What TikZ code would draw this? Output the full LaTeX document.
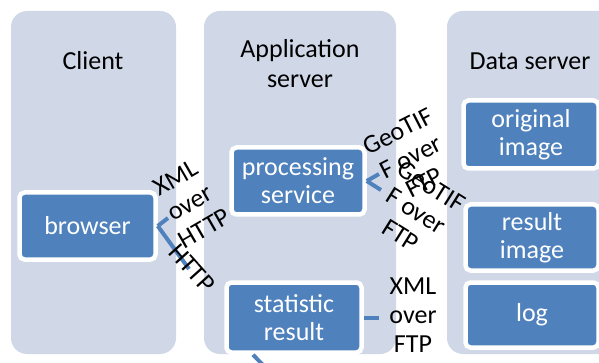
\documentclass[tikz,border=0pt]{standalone}
\usepackage{fontspec}
\setmainfont{Carlito}
\usetikzlibrary{positioning}

\begin{document}
\begin{tikzpicture}[x=1pt,y=-1pt,
	lane/.style={fill=lanegray,rounded corners=16pt},
	item/.style={fill=itemblue,draw=white,line width=4.5pt,rounded corners=5pt,
		text=white,align=center,inner sep=0pt,minimum width=134pt,minimum height=67pt,
		font=\fontsize{26}{28}\selectfont},
	head/.style={align=center,inner sep=0pt,font=\fontsize{26}{30}\selectfont},
	link/.style={draw=itemblue,line width=4pt},
	tag/.style={align=center,inner sep=0pt,font=\fontsize{26}{29}\selectfont}]

\definecolor{lanegray}{RGB}{208,216,232}
\definecolor{itemblue}{RGB}{79,129,189}

\useasboundingbox (0,0) rectangle (599,363);
\clip (0,0) rectangle (599,363);

% three columns
\fill[lane] (11,11) rectangle (176,354);
\fill[lane] (204,11) rectangle (396,354);
\fill[lane] (447,11) rectangle (640,354);

\node[head,anchor=base] (client) at (93,70) {Client};
\node[head] (appsrv) at (300,64) {Application\\server};
\node[head,anchor=base] (datasrv) at (530,70) {Data server};

% boxes
\node[item,minimum width=136pt] (browser) at (87.5,226) {browser};
\node[item,minimum width=133pt] (proc) at (298,181) {processing\\service};
\node[item,minimum width=135pt,minimum height=70pt] (stat) at (294,317.5) {statistic\\result};
\node[item,minimum width=135pt,minimum height=68pt] (orig) at (531,134.5) {original\\image};
\node[item,minimum width=133pt,minimum height=66pt] (resimg) at (532,237.5) {result\\image};
\node[item,minimum width=133pt,minimum height=65pt] (log) at (532,315) {log};

% loose ends of the connectors
\coordinate (bup) at (168,218);
\coordinate (bdown) at (189,269);
\coordinate (pup) at (379,174);
\coordinate (pdown) at (381,190);
\coordinate (sright) at (379,317.5);
\coordinate (sdown) at (264,366);

\draw[link] (browser.east) -- (bup);
\draw[link] (browser.east) -- (bdown);
\draw[link] (proc.east) -- (pup);
\draw[link] (proc.east) -- (pdown);
\draw[link] (stat.east) -- (sright);
\draw[link] ([xshift=-41pt]stat.south) -- (sdown);

% labels
\node[tag,rotate=30] (xmlhttp) at (190,203) {XML\\over\\HTTP};
\node[tag,rotate=-48] (http) at (192,268) {HTTP};
\node[tag,rotate=27] (geoa) at (411,157) {GeoTIF\\F over\\FTP};
\node[tag,rotate=-32] (geob) at (416,211) {GeoTIF\\F over\\FTP};
\node[tag] (xmlftp) at (413,315) {XML\\over\\FTP};

\end{tikzpicture}
\end{document}
